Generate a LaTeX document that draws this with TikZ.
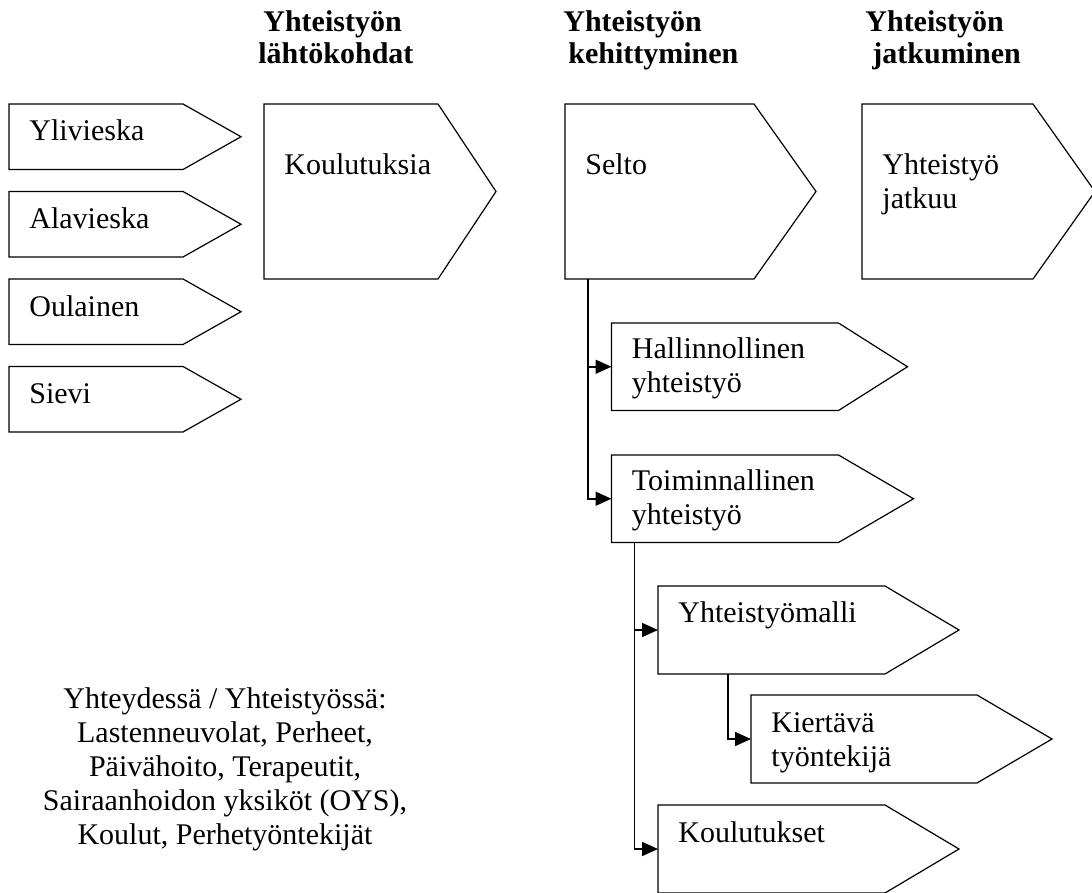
\documentclass[tikz,border=0pt]{standalone}
\usepackage{fontspec}
\setmainfont{Liberation Serif}
\usetikzlibrary{arrows.meta}

\tikzset{
  boxbody/.style={draw=none, inner sep=0pt, outer sep=0pt, anchor=north west},
  boxline/.style={draw, line width=0.6pt, line join=miter},
  boxtext/.style={inner sep=0pt, anchor=base west, align=left, font=\fontsize{15}{17}\selectfont},
  headtext/.style={boxtext, font=\fontsize{15}{16}\selectfont\bfseries},
  conn/.style={line width=0.8pt, -{Triangle[length=8pt, width=7pt]}},
}

% name, x, y, width, height, tip, text, baseline of last line
\newcommand{\tagbox}[8]{
  \node[boxbody, minimum width=#4*0.5pt, minimum height=#5*0.5pt] (#1) at (#2,#3) {};
  \draw[boxline] (#1.north west) -- (#1.north east) -- ([xshift=#6*0.5pt]#1.east)
    -- (#1.south east) -- (#1.south west) -- cycle;
  \node[boxtext] (#1-text) at ([shift={(20,#8)}]#1.north west) {#7};
}

\begin{document}
\begin{tikzpicture}[x=0.5pt, y=-0.5pt]
  \useasboundingbox (0,0) rectangle (1092,893);

  % headings
  \node[headtext] (head1) at (263,64) {Yhteistyön\\\hspace*{-2.5pt}lähtökohdat};
  \node[headtext] (head2) at (563,64) {Yhteistyön\\\hspace*{2.5pt}kehittyminen};
  \node[headtext] (head3) at (865,64) {Yhteistyön\\\hspace*{3.5pt}jatkuminen};

  % municipalities
  \foreach \name/\y/\txt in {ylivieska/104/Ylivieska, alavieska/191.5/Alavieska,
      oulainen/279/Oulainen, sievi/366.5/Sievi}
    \tagbox{\name}{9}{\y}{174}{65.5}{58}{\txt}{37};

  \tagbox{koulutuksia}{264}{104}{174}{175}{58}{Koulutuksia}{71}
  \tagbox{selto}{565}{104}{189}{175}{62}{Selto}{71}
  \tagbox{jatkuu}{862}{104}{171}{175}{62}{Yhteistyö\\jatkuu}{105}

  \tagbox{hallinnollinen}{611.5}{323}{227}{87.5}{69}{Hallinnollinen\\yhteistyö}{69}
  \tagbox{toiminnallinen}{611.5}{455}{227}{87.5}{75}{Toiminnallinen\\yhteistyö}{69}
  \tagbox{yhteistyomalli}{658}{586}{227}{88}{74}{Yhteistyömalli}{36}
  \tagbox{kiertava}{751}{695}{226}{88}{75}{Kiertävä\\työntekijä}{71}
  \tagbox{koulutukset}{658}{805}{227}{88}{74}{Koulutukset}{37}

  \draw[conn] ([xshift=11.5pt]selto.south west) |- (hallinnollinen.west);
  \draw[conn] ([xshift=11.5pt]selto.south west) |- (toiminnallinen.west);
  \draw[conn] ([xshift=11.5pt]toiminnallinen.south west) |- (yhteistyomalli.west);
  \draw[conn] ([xshift=11.5pt]toiminnallinen.south west) |- (koulutukset.west);
  \draw[conn] ([xshift=35pt]yhteistyomalli.south west) |- (kiertava.west);

  \node[boxtext, anchor=base, align=center] (yhteydessa) at (225,844)
    {Yhteydessä / Yhteistyössä:\\Lastenneuvolat, Perheet,\\Päivähoito, Terapeutit,\\
     Sairaanhoidon yksiköt (OYS),\\Koulut, Perhetyöntekijät};
\end{tikzpicture}
\end{document}
